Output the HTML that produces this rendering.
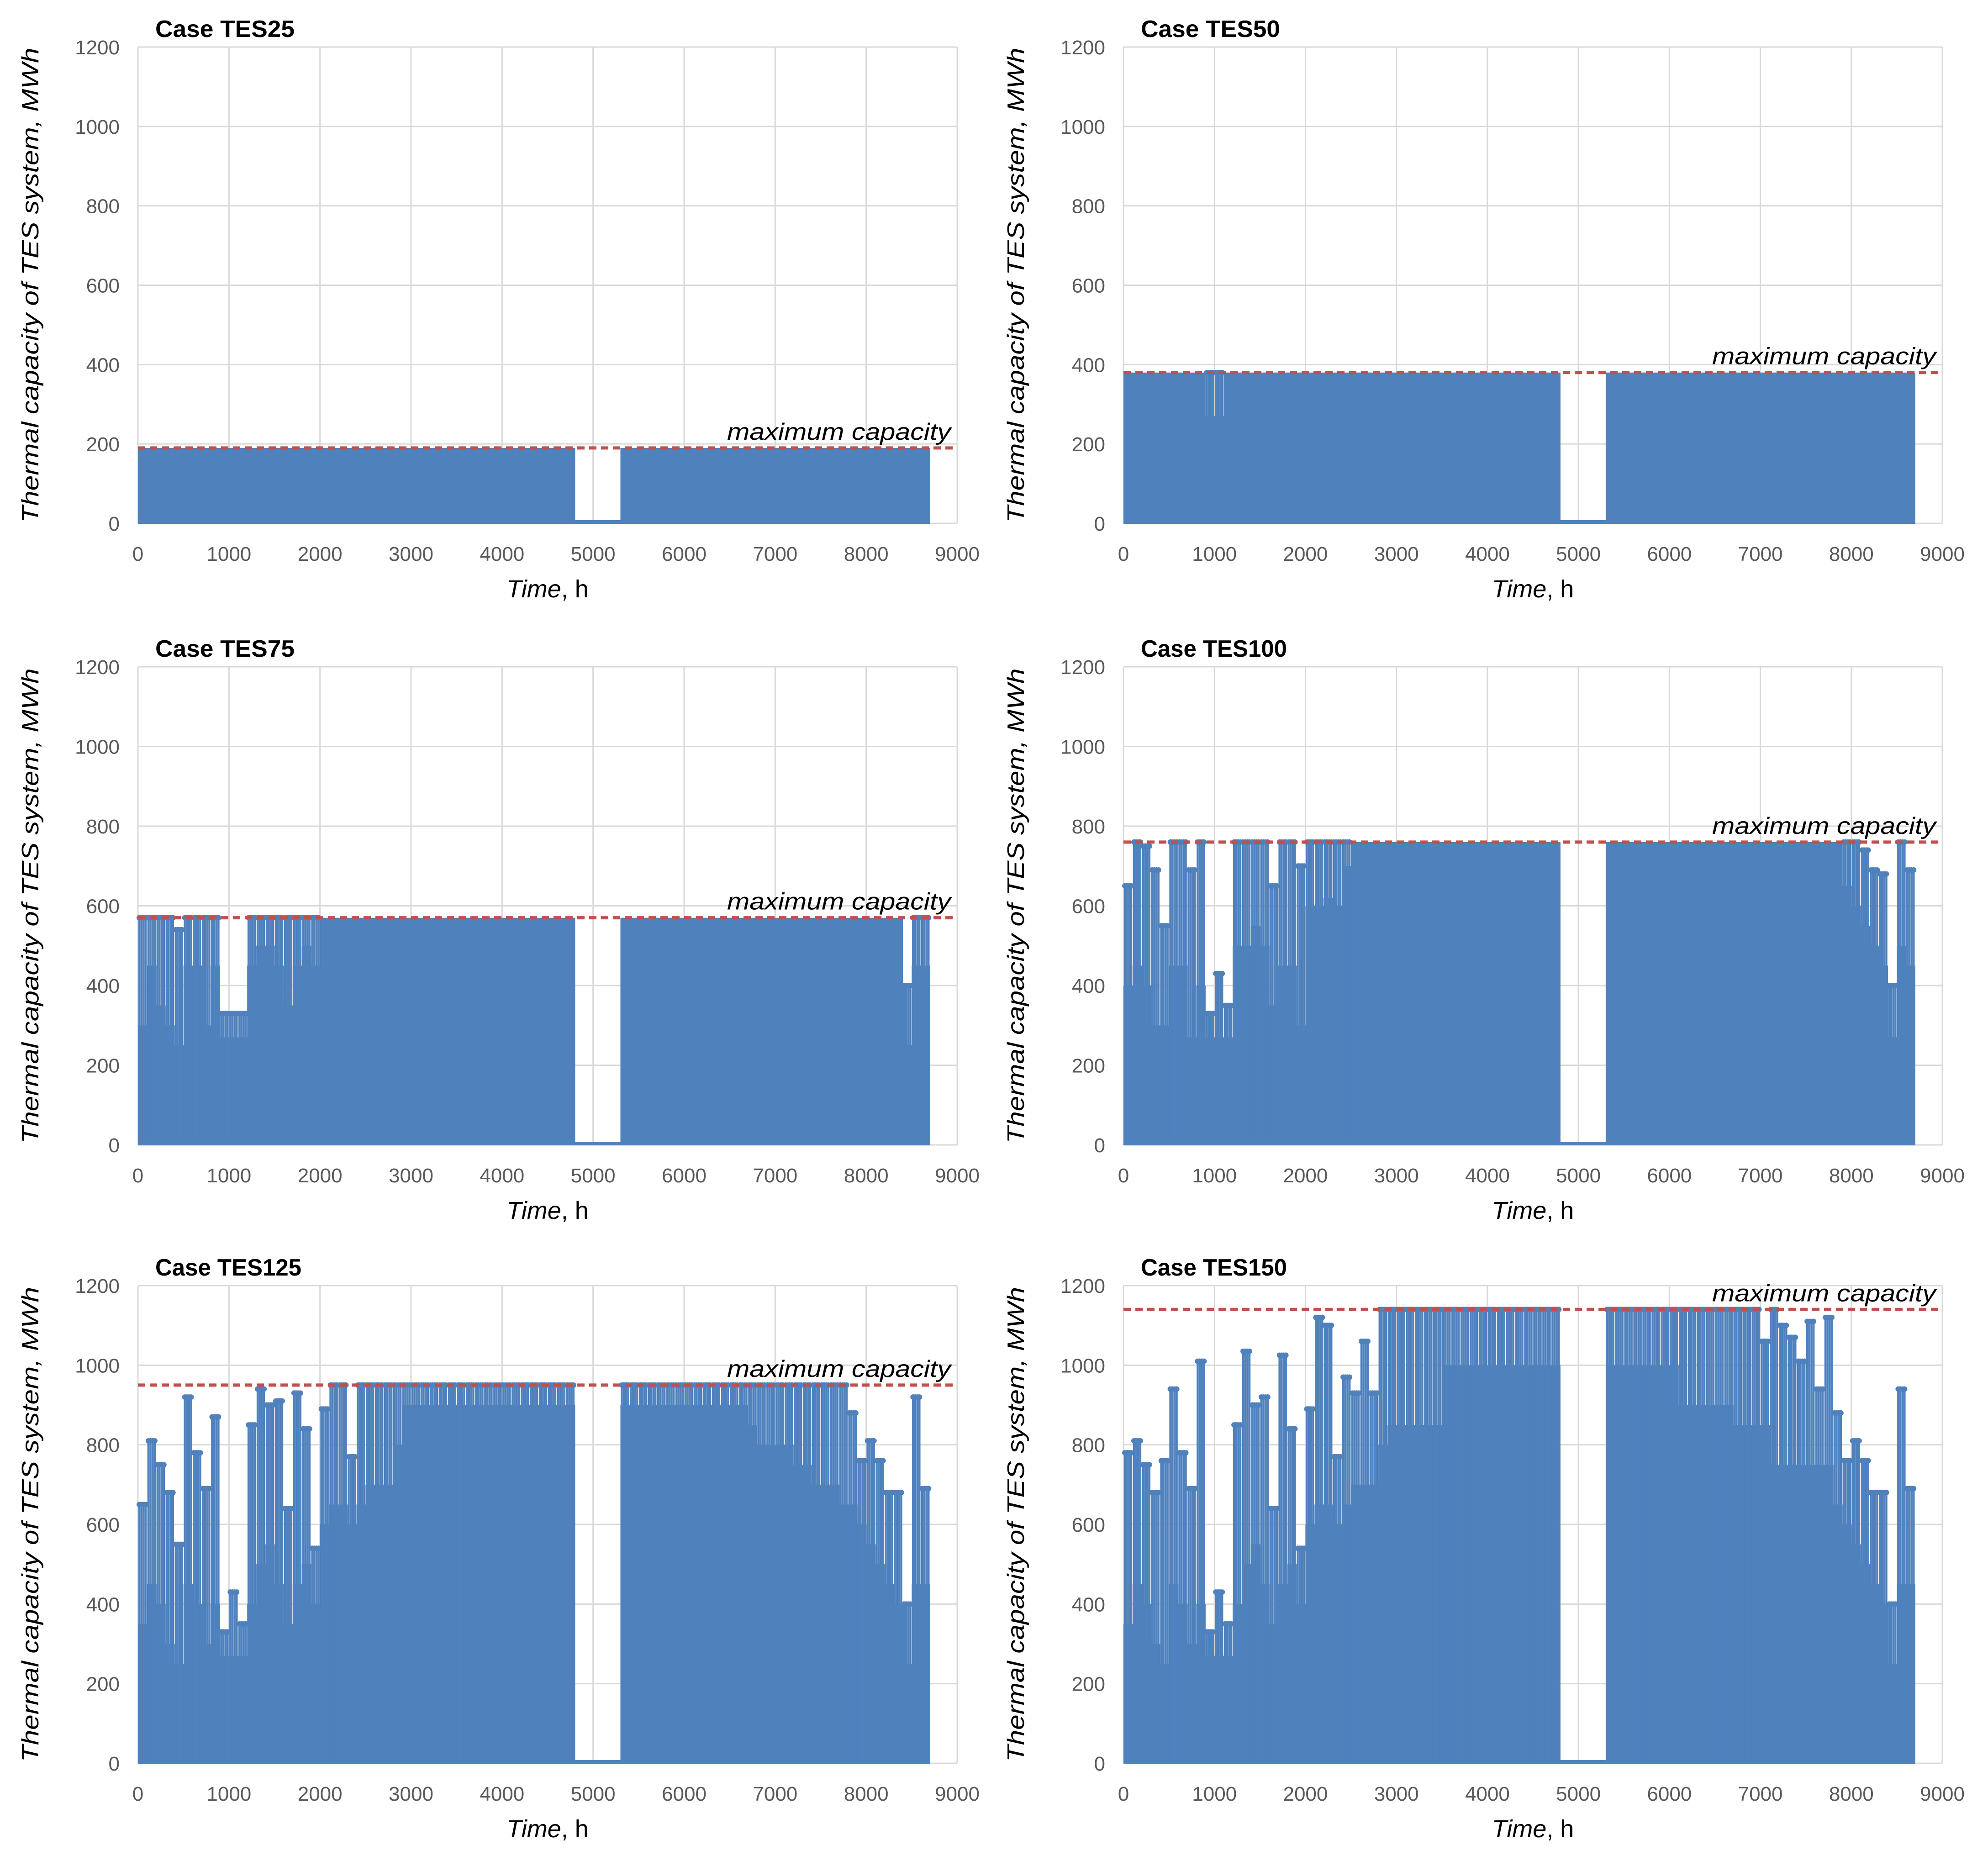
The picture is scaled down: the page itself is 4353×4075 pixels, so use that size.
<!DOCTYPE html>
<html><head><meta charset="utf-8"><style>
html,body{margin:0;padding:0;background:#fff;}
svg{display:block;font-family:"Liberation Sans",sans-serif;}
</style></head><body>
<svg id="fig" width="4353" height="4075" viewBox="0 0 4353 4075" xmlns="http://www.w3.org/2000/svg"></svg>
<script>
// ---- data (100 h bins; starts 0..8600, series ends at 8700 h) ----
const binStarts = Array.from({length:87},(_, i)=>i*100);
const yTicks = [0,200,400,600,800,1000,1200];
const xTicks = [0,1000,2000,3000,4000,5000,6000,7000,8000,9000];
const caseNames = ["Case TES25","Case TES50","Case TES75","Case TES100","Case TES125","Case TES150"];
const maxCap = [190,380,570,760,950,1140];

const body25 = [190,190,190,190,190,190,190,190,190,190,190,190,190,190,190,190,190,190,190,190,190,190,190,190,190,190,190,190,190,190,190,190,190,190,190,190,190,190,190,190,190,190,190,190,190,190,190,190,0,0,0,0,0,190,190,190,190,190,190,190,190,190,190,190,190,190,190,190,190,190,190,190,190,190,190,190,190,190,190,190,190,190,190,190,190,190,190];
const peak25 = body25;
const body50 = [380,380,380,380,380,380,380,380,380,270,270,380,380,380,380,380,380,380,380,380,380,380,380,380,380,380,380,380,380,380,380,380,380,380,380,380,380,380,380,380,380,380,380,380,380,380,380,380,0,0,0,0,0,380,380,380,380,380,380,380,380,380,380,380,380,380,380,380,380,380,380,380,380,380,380,380,380,380,380,380,380,380,380,380,380,380,380];
const peak50 = [380,380,380,380,380,380,380,380,380,380,380,380,380,380,380,380,380,380,380,380,380,380,380,380,380,380,380,380,380,380,380,380,380,380,380,380,380,380,380,380,380,380,380,380,380,380,380,380,0,0,0,0,0,380,380,380,380,380,380,380,380,380,380,380,380,380,380,380,380,380,380,380,380,380,380,380,380,380,380,380,380,380,380,380,380,380,380];
const body75 = [300,450,350,300,250,450,450,300,450,270,270,270,450,500,500,450,350,450,500,450,570,570,570,570,570,570,570,570,570,570,570,570,570,570,570,570,570,570,570,570,570,570,570,570,570,570,570,570,0,0,0,0,0,570,570,570,570,570,570,570,570,570,570,570,570,570,570,570,570,570,570,570,570,570,570,570,570,570,570,570,570,570,570,570,250,450,450];
const peak75 = [570,570,570,570,540,570,570,570,570,330,330,330,570,570,570,570,570,570,570,570,570,570,570,570,570,570,570,570,570,570,570,570,570,570,570,570,570,570,570,570,570,570,570,570,570,570,570,570,0,0,0,0,0,570,570,570,570,570,570,570,570,570,570,570,570,570,570,570,570,570,570,570,570,570,570,570,570,570,570,570,570,570,570,570,400,570,570];
const body100 = [400,450,400,300,300,450,450,270,400,270,270,270,500,500,550,500,350,450,450,300,600,600,620,600,700,760,760,760,760,760,760,760,760,760,760,760,760,760,760,760,760,760,760,760,760,760,760,760,0,0,0,0,0,760,760,760,760,760,760,760,760,760,760,760,760,760,760,760,760,760,760,760,760,760,760,760,760,760,760,650,600,550,500,450,270,500,450];
const peak100 = [650,760,750,690,550,760,760,690,760,330,430,350,760,760,760,760,650,760,760,700,760,760,760,760,760,760,760,760,760,760,760,760,760,760,760,760,760,760,760,760,760,760,760,760,760,760,760,760,0,0,0,0,0,760,760,760,760,760,760,760,760,760,760,760,760,760,760,760,760,760,760,760,760,760,760,760,760,760,760,760,760,740,690,680,400,760,690];
const body125 = [350,450,400,300,250,450,400,300,400,270,270,270,400,500,550,450,350,450,500,400,600,650,650,600,650,700,700,700,800,900,900,900,900,900,900,900,900,900,900,900,900,900,900,900,900,900,900,900,0,0,0,0,0,900,900,900,900,900,900,900,900,900,900,900,900,900,900,850,800,800,800,800,750,750,700,700,700,650,650,600,550,500,450,400,250,450,450];
const peak125 = [650,810,750,680,550,920,780,690,870,330,430,350,850,940,900,910,640,930,840,540,890,950,950,770,950,950,950,950,950,950,950,950,950,950,950,950,950,950,950,950,950,950,950,950,950,950,950,950,0,0,0,0,0,950,950,950,950,950,950,950,950,950,950,950,950,950,950,950,950,950,950,950,950,950,950,950,950,950,880,760,810,760,680,680,400,920,690];
const body150 = [350,450,400,300,250,450,400,300,400,270,270,270,400,500,550,450,350,450,500,400,600,650,650,600,650,700,700,700,800,850,850,850,850,850,850,1000,1000,1000,1000,1000,1000,1000,1000,1000,1000,1000,1000,1000,0,0,0,0,0,1000,1000,1000,1000,1000,1000,1000,1000,900,900,900,900,900,900,850,850,850,850,750,750,750,750,750,750,750,650,600,550,500,450,400,250,450,450];
const peak150 = [780,810,750,680,760,940,780,690,1010,330,430,350,850,1035,900,920,640,1025,840,540,890,1120,1100,770,970,930,1060,930,1140,1140,1140,1140,1140,1140,1140,1140,1140,1140,1140,1140,1140,1140,1140,1140,1140,1140,1140,1140,0,0,0,0,0,1140,1140,1140,1140,1140,1140,1140,1140,1140,1140,1140,1140,1140,1140,1140,1140,1140,1060,1140,1100,1070,1010,1110,940,1120,880,760,810,760,680,680,400,940,690];

const bodies = [body25,body50,body75,body100,body125,body150];
const peaks = [peak25,peak50,peak75,peak100,peak125,peak150];

// ---- layout ----
const NS="http://www.w3.org/2000/svg";
const svg=document.getElementById('fig');
const colX=[[302,2096],[2460,4253]];
const rowY=[[103,1146],[1460,2507],[2815,3861]];
const BLUE="#4f81bd";
function mk(tag,attrs,parent){const e=document.createElementNS(NS,tag);for(const k in attrs)e.setAttribute(k,attrs[k]);(parent||svg).appendChild(e);return e;}

for(let p=0;p<6;p++){
  const [x0,x1]=colX[p%2];const [yt,yb]=rowY[Math.floor(p/2)];
  const xs=v=>x0+(v/9000)*(x1-x0);
  const ys=v=>yb-(v/1200)*(yb-yt);
  const g=mk('g',{});
  
  
  yTicks.forEach(t=>{
    const l=mk('line',{x1:x0,x2:x1,y1:ys(t),y2:ys(t),stroke:'#d9d9d9','stroke-width':3},g);
    
    
    const tx=mk('text',{x:x0-40,y:ys(t)+16,'text-anchor':'end','font-size':44,fill:'#595959'},g);
    tx.textContent=t;
    
    
  });
  xTicks.forEach(t=>{
    const l=mk('line',{x1:xs(t),x2:xs(t),y1:yt,y2:yb,stroke:'#d9d9d9','stroke-width':3},g);
    
    
    const tx=mk('text',{x:xs(t),y:yb+82,'text-anchor':'middle','font-size':44,fill:'#595959'},g);
    tx.textContent=t;
    
    
  });
  const body=bodies[p],peak=peaks[p];
  const sg=mk('g',{},g);
  
  
  binStarts.forEach((s,i)=>{
    const e=Math.min(s+100,8700);
    if(body[i]>0){
      const r=mk('rect',{x:xs(s),y:ys(body[i]),width:xs(e)-xs(s)+0.6,height:ys(0)-ys(body[i]),fill:BLUE},sg);
      
      
    }
    if(peak[i]>body[i]){
      [0.15,0.38,0.62,0.85].forEach(f=>{
        const xx=xs(s+f*(e-s));
        const l=mk('line',{x1:xx,x2:xx,y1:ys(0),y2:ys(peak[i]),stroke:BLUE,'stroke-width':4.5},sg);
        
        
        const c=mk('circle',{cx:xx,cy:ys(peak[i]),r:6,fill:BLUE},sg);
        
        
      });
    }
  });
  const z=mk('line',{x1:xs(0),x2:xs(8700),y1:ys(0)-3,y2:ys(0)-3,stroke:BLUE,'stroke-width':8},sg);
  
  
  const d=mk('line',{x1:x0,x2:x1,y1:ys(maxCap[p]),y2:ys(maxCap[p]),stroke:'#c0504d','stroke-width':7,'stroke-dasharray':'16 10'},g);
  
  
  const mt=mk('text',{x:x1-14,y:ys(maxCap[p])-18,'text-anchor':'end','font-size':52,'font-style':'italic',fill:'#000',textLength:490,lengthAdjust:'spacingAndGlyphs'},g);
  mt.textContent='maximum capacity';
  
  
  const tlen=caseNames[p].length===10?305:(caseNames[p].length===11?320:336);
  const tt=mk('text',{x:x0+38,y:yt-22,'font-size':52,'font-weight':'bold',fill:'#000',textLength:tlen,lengthAdjust:'spacingAndGlyphs'},g);
  tt.textContent=caseNames[p];
  
  
  const xt=mk('text',{x:(x0+x1)/2,y:yb+162,'text-anchor':'middle','font-size':54,fill:'#000'},g);
  xt.innerHTML='<tspan font-style="italic">Time</tspan>, h';
  
  
  const cy=(yt+yb)/2, cx=x0-218;
  const yt2=mk('text',{x:cx,y:cy,'text-anchor':'middle','font-size':52,'font-style':'italic',fill:'#000',transform:`rotate(-90 ${cx} ${cy})`,textLength:1040,lengthAdjust:'spacingAndGlyphs'},g);
  yt2.textContent='Thermal capacity of TES system, MWh';
  
  
}
</script>
</body></html>
